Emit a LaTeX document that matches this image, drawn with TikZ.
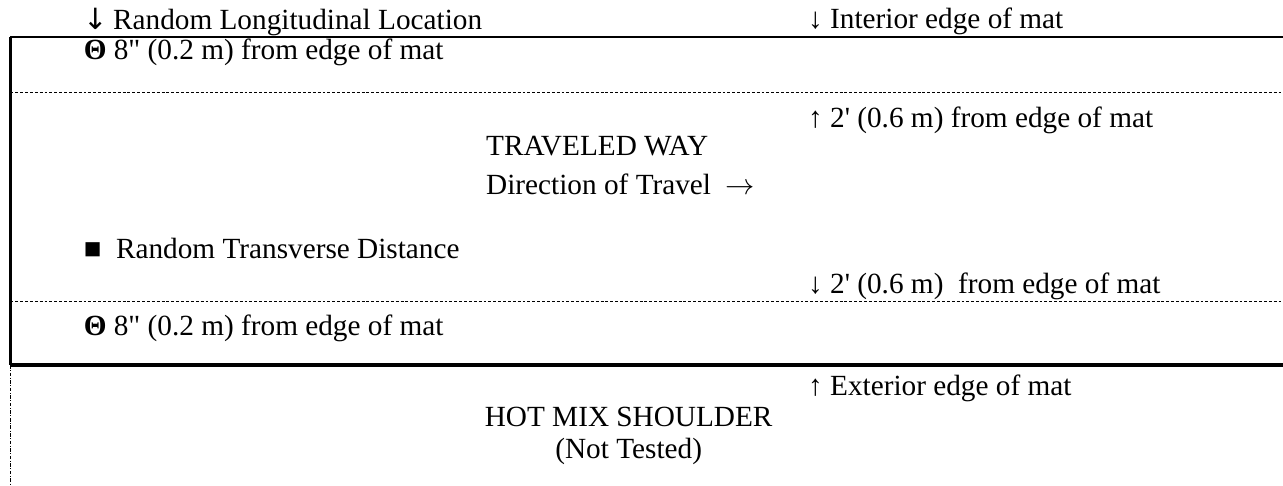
\documentclass[tikz,border=0pt]{standalone}
\usepackage{fontspec}
\setmainfont{Liberation Serif}[Ligatures=TeXOff]
\newfontfamily\symfont{DejaVu Sans}
\usepackage{tikz}
\usetikzlibrary{positioning}

\begin{document}
\begin{tikzpicture}[
    txt/.style={anchor=west, inner sep=0pt, font=\fontsize{12pt}{14pt}\selectfont},
    ctxt/.style={inner sep=0pt, align=center, font=\fontsize{12pt}{14pt}\selectfont},
    borda/.style={line width=1.2pt},
    matedge/.style={line width=0.8pt},
    ombro/.style={line width=1.5pt},
    faixa/.style={line width=0.4pt, dash pattern=on 1.2pt off 0.8pt},
    aberto/.style={line width=0.4pt, dash pattern=on 1.5pt off 0.6pt on 0.4pt off 0.6pt}
]
    \useasboundingbox (0,0) rectangle (18.49,7.0);

    % edges of the mat
    \coordinate (topL) at (0.15,6.46);
    \coordinate (topR) at (18.49,6.46);
    \coordinate (d1L) at (0.15,5.66);
    \coordinate (d1R) at (18.49,5.66);
    \coordinate (d2L) at (0.15,2.65);
    \coordinate (d2R) at (18.49,2.65);
    \coordinate (botL) at (0.15,1.74);
    \coordinate (botR) at (18.49,1.74);
    \coordinate (baixo) at (0.15,0);

    \draw[matedge] (topL) -- (topR);
    \draw[faixa] (d1L) -- (d1R);
    \draw[faixa] (d2L) -- (d2R);
    \draw[ombro] (botL) -- (botR);
    \draw[borda] (topL) -- (botL);
    \draw[aberto] (botL) -- (baixo);

    % labels
    \node[txt] (longit) at (1.20,6.69) {{\symfont↓}\,Random Longitudinal Location};
    \node[txt] (interior) at (11.64,6.69) {↓ Interior edge of mat};
    \node[txt] (oito1) at (1.20,6.25) {\textbf{Θ} 8" (0.2 m) from edge of mat};
    \node[txt] (dois1) at (11.64,5.27) {↑ 2' (0.6 m) from edge of mat};
    \node[txt] (trafego) at (7.00,4.89) {TRAVELED WAY};
    \node[txt] (direcao) at (7.00,4.34) {Direction of Travel\ \ $\rightarrow$};
    \node[txt] (transv) at (1.20,3.42) {■\ \ Random Transverse Distance};
    \node[txt] (dois2) at (11.64,2.88) {↓ 2' (0.6 m)\ \ from edge of mat};
    \node[txt] (oito2) at (1.20,2.27) {\textbf{Θ} 8" (0.2 m) from edge of mat};
    \node[txt] (exterior) at (11.64,1.40) {↑ Exterior edge of mat};
    \node[ctxt] (acostamento) at (9.06,0.72) {HOT MIX SHOULDER\\[-0.9pt](Not Tested)};
\end{tikzpicture}
\end{document}
